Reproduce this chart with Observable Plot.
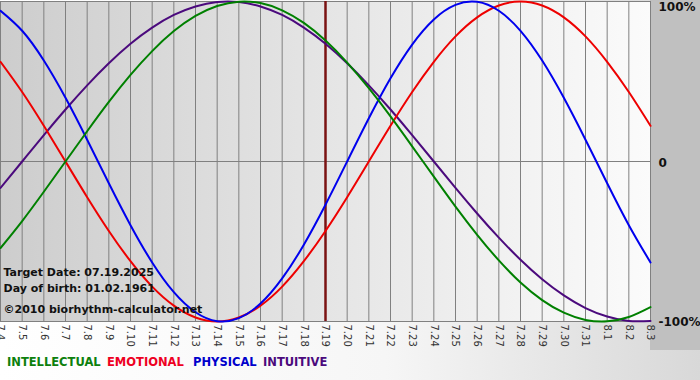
<!DOCTYPE html>
<html><head><meta charset="utf-8">
<script src="https://cdn.jsdelivr.net/npm/d3@7"></script>
<script src="https://cdn.jsdelivr.net/npm/@observablehq/plot@0.6"></script>
<style>
html,body{margin:0;padding:0;background:#fff;}
#wrap{position:relative;width:700px;height:380px;overflow:hidden;background:linear-gradient(to right,#ffffff 0%,#f6f6f6 55%,#d8d8d8 100%);}
#side{position:absolute;left:650px;top:0;width:50px;height:350px;background:#c0c0c0;}
#chart{position:absolute;left:0;top:0;}
#legend{position:absolute;top:355px;left:0;width:700px;height:20px;font:bold 11.5px "DejaVu Sans",sans-serif;white-space:nowrap;}
#legend span{position:absolute;top:0;}
</style></head>
<body><div id="wrap"><div id="side"></div><div id="chart"></div><div id="legend"></div></div>
<script>
// Day labels (July 4 .. August 3)
const dayLabels = ["7.4","7.5","7.6","7.7","7.8","7.9","7.10","7.11","7.12","7.13","7.14","7.15","7.16","7.17","7.18","7.19","7.20","7.21","7.22","7.23","7.24","7.25","7.26","7.27","7.28","7.29","7.30","7.31","8.1","8.2","8.3"];
const targetIndex = 15; // 7.19

// Series values (fraction of 100%), one per day
const intellectual = [-0.541,-0.372,-0.189,0,0.189,0.372,0.541,0.690,0.815,0.910,0.972,0.999,0.990,0.945,0.866,0.756,0.618,0.458,0.282,0.095,-0.095,-0.282,-0.458,-0.618,-0.756,-0.866,-0.945,-0.990,-0.999,-0.972,-0.910];
const emotional    = [0.623,0.434,0.223,0,-0.223,-0.434,-0.623,-0.782,-0.901,-0.975,-1.000,-0.975,-0.901,-0.782,-0.623,-0.434,-0.223,0,0.223,0.434,0.623,0.782,0.901,0.975,1.000,0.975,0.901,0.782,0.623,0.434,0.223];
const physical     = [0.942,0.817,0.631,0.398,0.136,-0.136,-0.398,-0.631,-0.817,-0.942,-0.998,-0.979,-0.888,-0.731,-0.520,-0.270,0,0.270,0.520,0.731,0.888,0.979,0.998,0.942,0.817,0.631,0.398,0.136,-0.136,-0.398,-0.631];
const intuitive    = [-0.165,0,0.165,0.325,0.476,0.614,0.736,0.837,0.916,0.969,0.997,0.997,0.969,0.916,0.837,0.736,0.614,0.476,0.325,0.165,0,-0.165,-0.325,-0.476,-0.614,-0.736,-0.837,-0.916,-0.969,-0.997,-0.997];

const seriesNames = ["INTELLECTUAL","EMOTIONAL","PHYSICAL","INTUITIVE"];
const yTicks = [1, 0, -1];
const yTickLabels = ["100%", "0", "-100%"];
const infoLines = ["Target Date: 07.19.2025", "Day of birth: 01.02.1961", "©2010 biorhythm-calculator.net"];

const lineColors = {INTELLECTUAL:"#008000", EMOTIONAL:"#ee0000", PHYSICAL:"#0000ee", INTUITIVE:"#4b0a7d"};
const legendColors = {INTELLECTUAL:"#0d800d", EMOTIONAL:"#ee0022", PHYSICAL:"#0000cc", INTUITIVE:"#4b0a7d"};
const seriesData = {INTELLECTUAL:intellectual, EMOTIONAL:emotional, PHYSICAL:physical, INTUITIVE:intuitive};

const idx = dayLabels.map((d,i)=>i);
const lastIdx = dayLabels.length - 1;

const gradientDefs = () => {
  const defs = d3.create("svg:defs");
  const g = defs.append("linearGradient").attr("id","bgGrad").attr("x1","0").attr("x2","1").attr("y1","0").attr("y2","0");
  g.append("stop").attr("offset","0%").attr("stop-color","#cdcdcd");
  g.append("stop").attr("offset","50%").attr("stop-color","#e5e5e5");
  g.append("stop").attr("offset","100%").attr("stop-color","#fbfbfb");
  return defs.node();
};

const lineMark = (name) => Plot.line(seriesData[name], {
  x: (d,i) => i, y: d => d, stroke: lineColors[name], strokeWidth: 2, curve: "natural"
});

const rightLabel = (i, dy) => Plot.text([yTickLabels[i]], {
  x: () => lastIdx, y: () => yTicks[i], text: d => d, textAnchor: "start", lineAnchor: "middle",
  dx: 8, dy, fontSize: 12, fontWeight: "bold", fill: "#111"
});
const infoLabel = (i, dy, size) => Plot.text([infoLines[i]], {
  x: () => 0, y: () => -1, text: d => d, textAnchor: "start", lineAnchor: "middle",
  dx: 3, dy, fontSize: size, fontWeight: "bold", fill: "#111"
});

const plot = Plot.plot({
  width: 700, height: 350,
  marginTop: 1, marginBottom: 29, marginLeft: 0, marginRight: 50,
  style: {background: "transparent", fontFamily: "DejaVu Sans, sans-serif"},
  x: {domain: [0, lastIdx], axis: null},
  y: {domain: [-1, 1], axis: null},
  marks: [
    gradientDefs,
    Plot.frame({fill: "url(#bgGrad)", stroke: "none"}),
    Plot.ruleX(idx, {stroke: "#808080", strokeWidth: 1, strokeOpacity: 1}),
    Plot.ruleY([0], {stroke: "#808080", strokeWidth: 1}),
    Plot.ruleY([-1, 1], {stroke: "#808080", strokeWidth: 1}),
    Plot.ruleX([targetIndex], {stroke: "#7a1212", strokeWidth: 2.5}),
    lineMark("INTUITIVE"),
    lineMark("EMOTIONAL"),
    lineMark("PHYSICAL"),
    lineMark("INTELLECTUAL"),
    Plot.text(dayLabels, {x: (d,i) => i, y: () => -1, text: d => d, rotate: 90, textAnchor: "start", lineAnchor: "middle", dy: 3, fontSize: 10, fill: "#333"}),
    rightLabel(0, 6),
    rightLabel(1, 2),
    rightLabel(2, 1),
    infoLabel(0, -49, 11),
    infoLabel(1, -33.5, 11),
    infoLabel(2, -12.5, 11)
  ]
});

document.getElementById("chart").appendChild(plot);

// Legend
const legendX = [7, 107, 193, 263];
const legend = d3.select("#legend");
seriesNames.forEach((n,i) => {
  legend.append("span").style("left", legendX[i] + "px").style("color", legendColors[n]).text(n);
});
</script>
</body></html>
